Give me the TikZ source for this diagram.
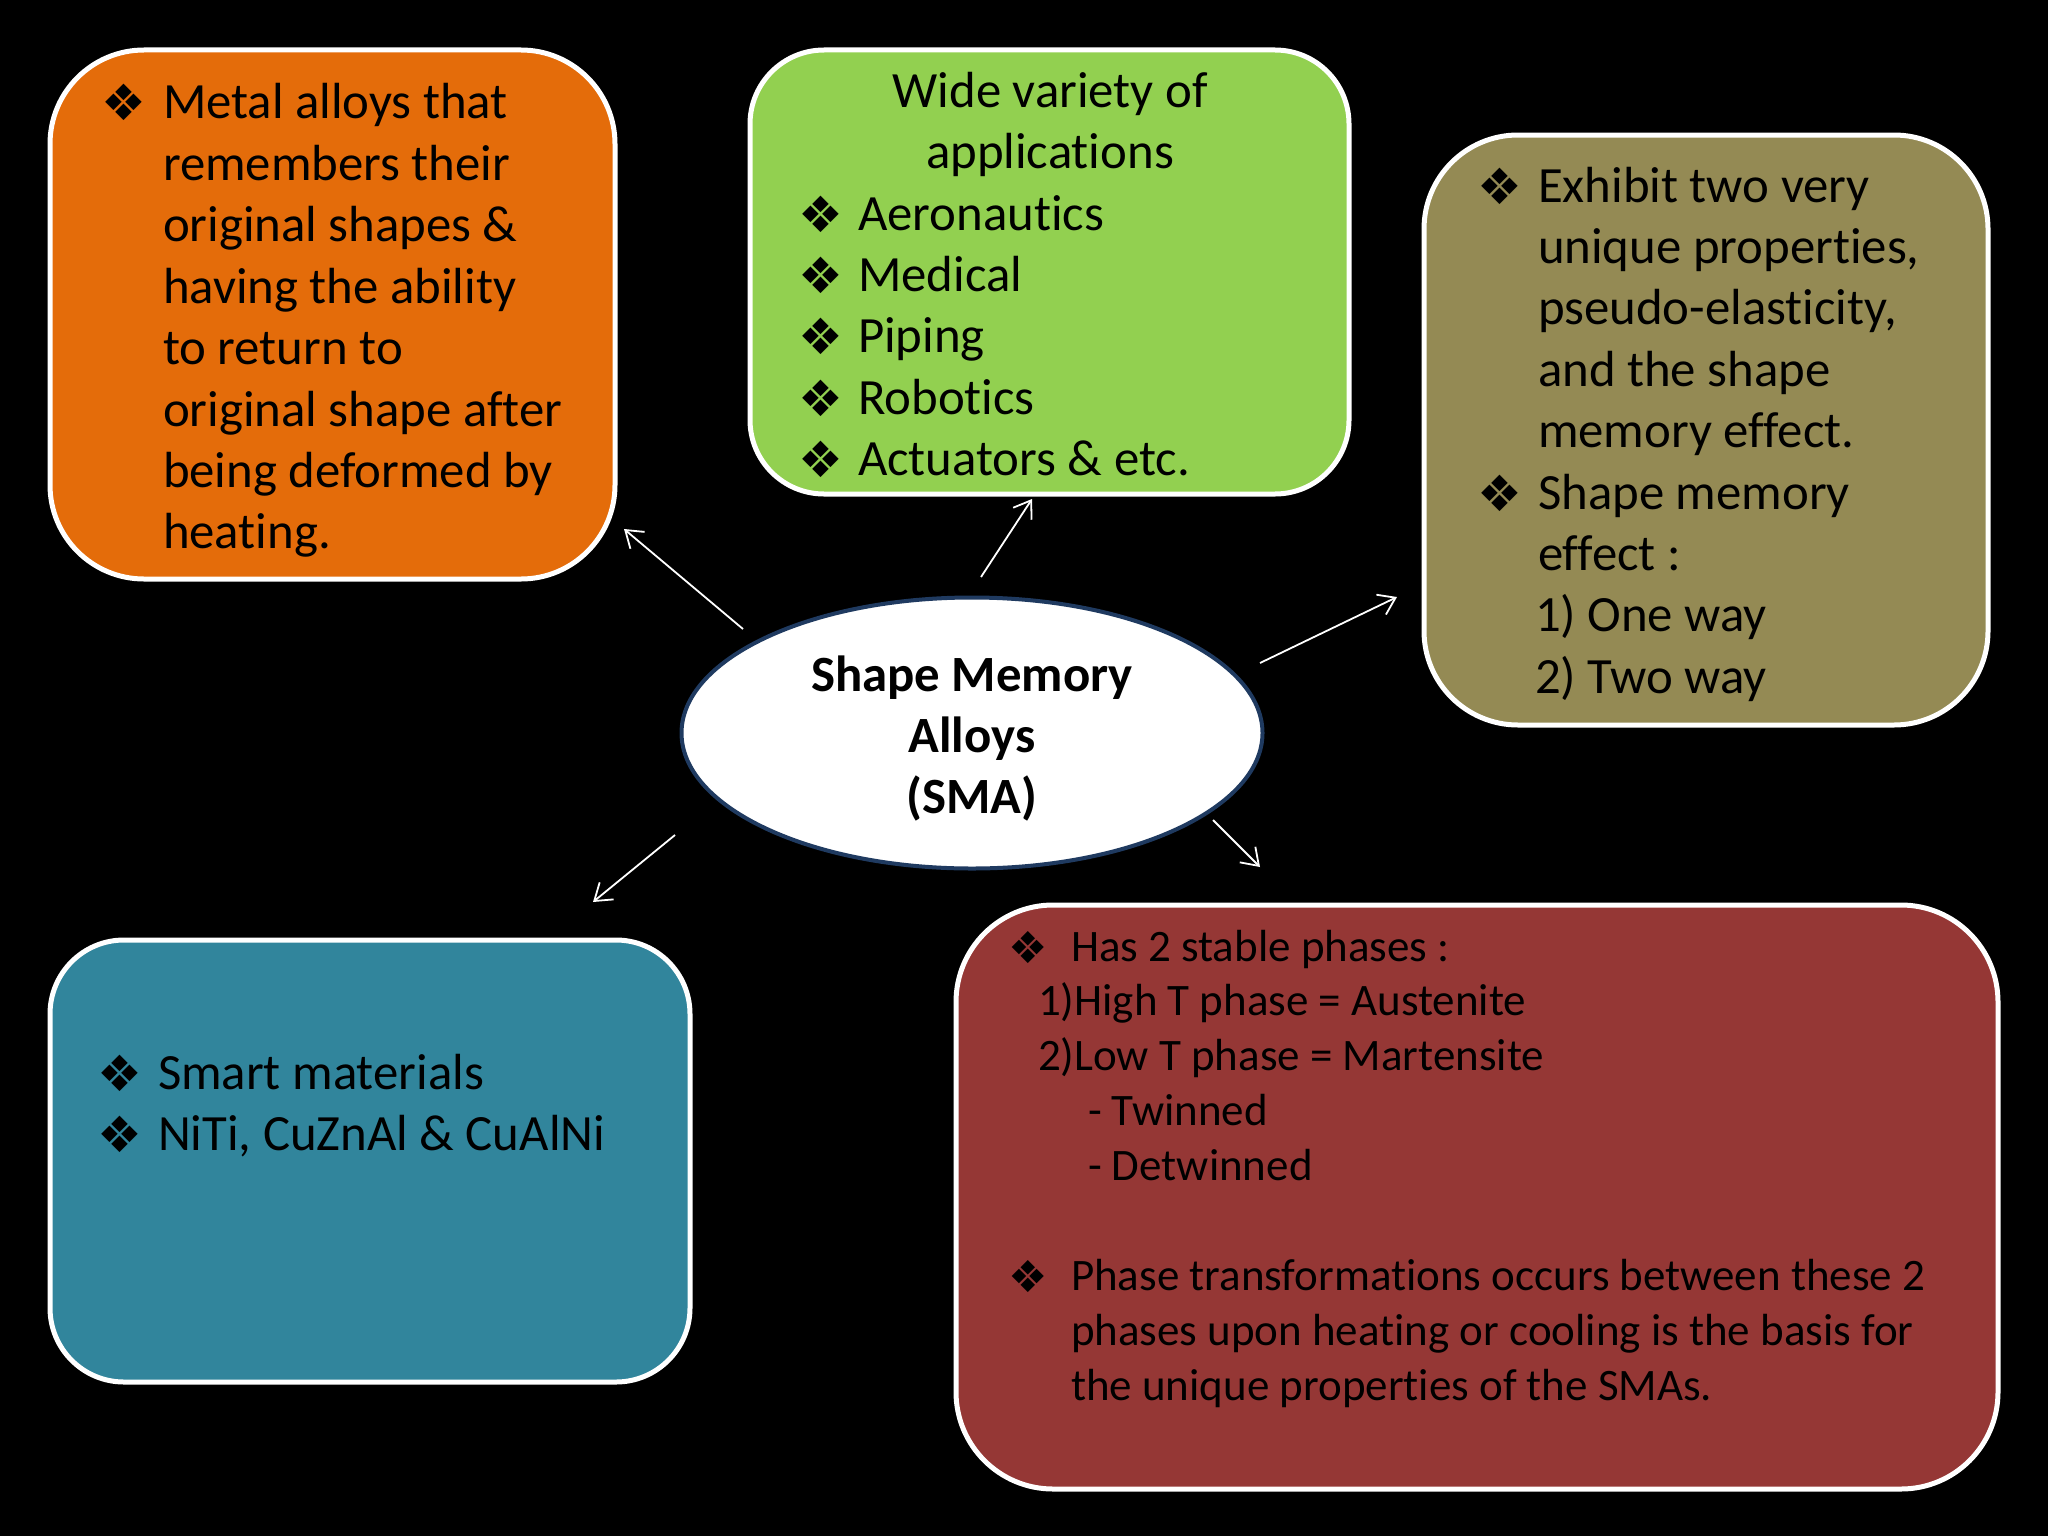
\documentclass[tikz,border=0pt]{standalone}
\usepackage{fontspec}
\setmainfont{Carlito}[Ligatures=NoCommon]
\newfontfamily\dejavu{DejaVu Sans}
\usetikzlibrary{arrows.meta,shapes.geometric}
\definecolor{orangeF}{HTML}{E46C0A}
\definecolor{greenF}{HTML}{92D050}
\definecolor{oliveF}{HTML}{948A54}
\definecolor{tealF}{HTML}{31859C}
\definecolor{redF}{HTML}{953735}
\definecolor{ellB}{HTML}{1F3A60}
\newcommand\bulA[1]{\makebox[#1][l]{\raisebox{-1pt}{\fontsize{25}{25}\dejavu ❖}}}
\newcommand\bulB[1]{\makebox[#1][l]{\raisebox{-1pt}{\fontsize{22}{22}\dejavu ❖}}}
\tikzset{
  box/.style={draw=white, line width=2.5pt, inner sep=0pt},
  txt/.style={inner sep=0pt, outer sep=0pt, text=black, anchor=base west},
  arr/.style={draw=white, line width=0.9pt, -{Straight Barb[length=8pt,width=11pt]}},
}
\begin{document}
\begin{tikzpicture}[x=0.5pt,y=-0.5pt]
\fill[black] (0,0) rectangle (2048,1536);
\useasboundingbox (0,0) rectangle (2048,1536);

% boxes
\node[box, fill=orangeF, minimum width=282.5pt, minimum height=264.5pt, rounded corners=47pt] (orange) at (332.5,314.5) {};
\node[box, fill=greenF, minimum width=299.5pt, minimum height=222pt, rounded corners=37pt] (green) at (1049.5,272) {};
\node[box, fill=oliveF, minimum width=282pt, minimum height=295pt, rounded corners=47pt] (olive) at (1706,430) {};
\node[box, fill=tealF, minimum width=320pt, minimum height=221pt, rounded corners=37pt] (teal) at (370,1161) {};
\node[box, fill=redF, minimum width=521pt, minimum height=292pt, rounded corners=48.5pt] (red) at (1477,1197) {};
\node[draw=ellB, line width=2pt, fill=white, ellipse, minimum width=290.5pt, minimum height=135.5pt, inner sep=0pt] (sma) at (972,733) {};

% texts
\node[txt] (torange) at (101,119) {\parbox[t]{300pt}{\fontsize{25.4}{30.7}\selectfont
\bulA{31pt}Metal alloys that\\
\hspace*{31pt}remembers their\\
\hspace*{31pt}original shapes \&\\
\hspace*{31pt}having the ability\\
\hspace*{31pt}to return to\\
\hspace*{31pt}original shape after\\
\hspace*{31pt}being deformed by\\
\hspace*{31pt}heating.}};

\node[inner sep=0pt, anchor=base] (tgreenhead) at (1050,107) {\parbox[t]{280pt}{\centering\fontsize{25.4}{30.7}\selectfont
Wide variety of\\ applications}};
\node[txt] (tgreen) at (798,230) {\parbox[t]{280pt}{\fontsize{25.4}{30.7}\selectfont
\bulA{30pt}Aeronautics\\
\bulA{30pt}Medical\\
\bulA{30pt}Piping\\
\bulA{30pt}Robotics\\
\bulA{30pt}Actuators \& etc.}};

\node[txt] (tolive) at (1477,202) {\parbox[t]{270pt}{\fontsize{25.4}{30.7}\selectfont
\bulA{30.5pt}Exhibit two very\\
\hspace*{30.5pt}unique properties,\\
\hspace*{30.5pt}pseudo-elasticity,\\
\hspace*{30.5pt}and the shape\\
\hspace*{30.5pt}memory effect.\\
\bulA{30.5pt}Shape memory\\
\hspace*{30.5pt}effect :\\
\hspace*{29pt}1) One way\\
\hspace*{29pt}2) Two way}};

\node[txt] (tteal) at (97,1089) {\parbox[t]{300pt}{\fontsize{25.4}{30.7}\selectfont
\bulA{30.5pt}Smart materials\\
\bulA{30.5pt}NiTi, CuZnAl \& CuAlNi}};

\node[txt] (tred) at (1008,961) {\parbox[t]{500pt}{\fontsize{22.5}{27.45}\selectfont
\bulB{31.5pt}Has 2 stable phases :\\
\hspace*{15pt}1)High T phase = Austenite\\
\hspace*{15pt}2)Low T phase = Martensite\\
\hspace*{40pt}- Twinned\\
\hspace*{40pt}- Detwinned\\
\mbox{}\\
\bulB{31.5pt}Phase transformations occurs between these 2\\
\hspace*{31.5pt}phases upon heating or cooling is the basis for\\
\hspace*{31.5pt}the unique properties of the SMAs.}};

\node[inner sep=0pt, anchor=base] (tsma) at (972,691) {\parbox[t]{280pt}{\centering\bfseries\fontsize{25.4}{30.7}\selectfont
Shape Memory\\ Alloys\\ (SMA)}};

% connector end points
\coordinate (a1s) at (743,629); \coordinate (a1e) at (624,529);
\coordinate (a2s) at (981,577); \coordinate (a2e) at (1032,499);
\coordinate (a3s) at (1260,663); \coordinate (a3e) at (1397,597);
\coordinate (a4s) at (675,835); \coordinate (a4e) at (593,902);
\coordinate (a5s) at (1213,820); \coordinate (a5e) at (1260,867);
\draw[arr] (a1s) -- (a1e);
\draw[arr] (a2s) -- (a2e);
\draw[arr] (a3s) -- (a3e);
\draw[arr] (a4s) -- (a4e);
\draw[arr] (a5s) -- (a5e);
\end{tikzpicture}
\end{document}
